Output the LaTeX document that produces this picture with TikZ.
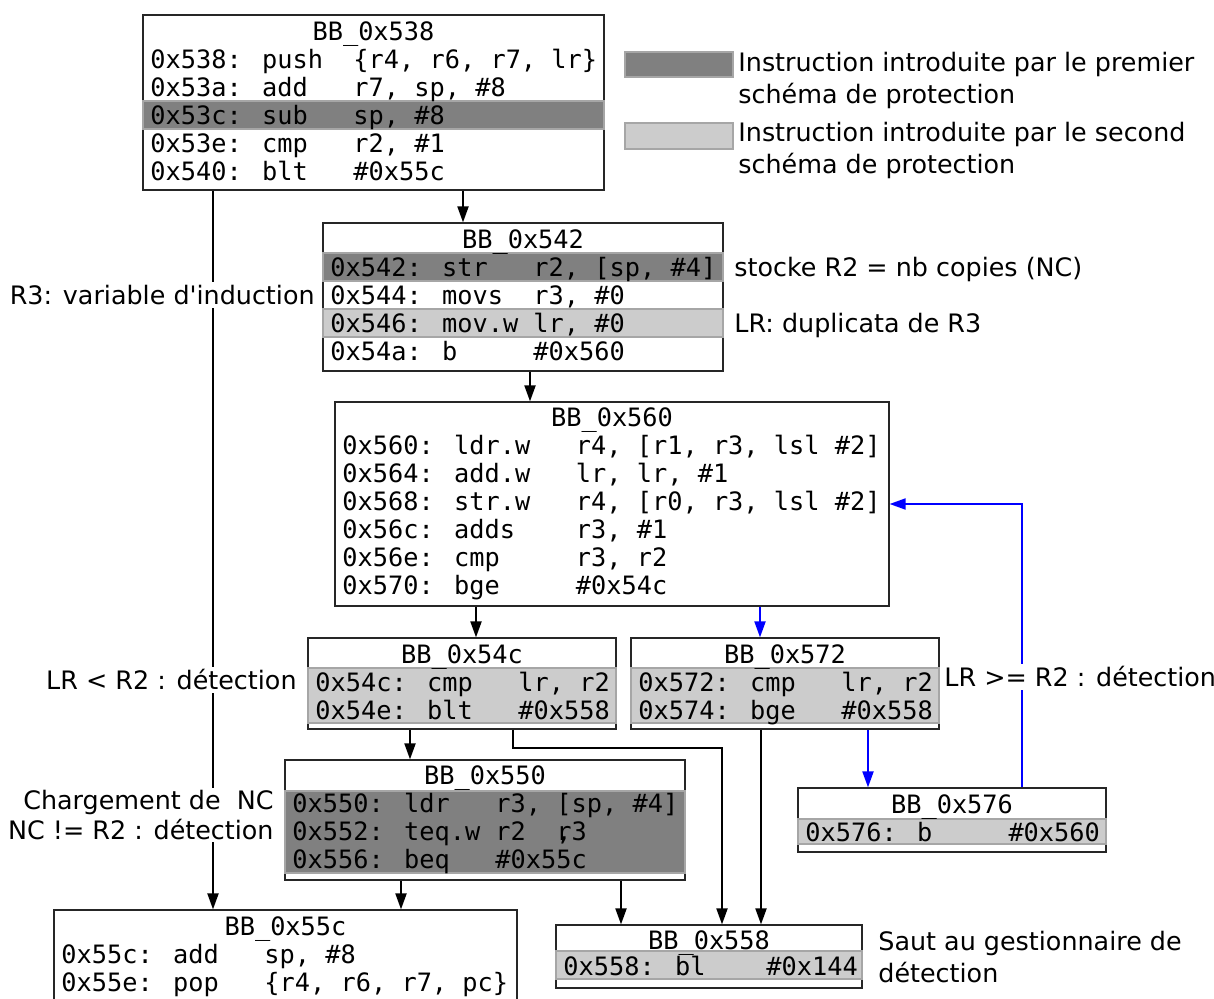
\documentclass[tikz,border=0pt]{standalone}
\usepackage{fontspec}
\setmainfont{DejaVu Sans}
\newfontfamily\codefamily{DejaVu Sans Mono}
\usetikzlibrary{arrows.meta,positioning,fit}

\begin{document}
\begin{tikzpicture}[x=0.5pt, y=-0.5pt,
  bb/.style={draw=black!85, line width=0.6pt, fill=white, inner sep=0pt},
  code/.style={font=\codefamily\fontsize{12.65}{14}\selectfont, inner sep=0pt, text height=10pt, text depth=0.7pt},
  lab/.style={font=\fontsize{12.7}{16}\selectfont, inner sep=1pt, fill=white, text height=10pt, text depth=0.7pt},
  labml/.style={font=\fontsize{12.7}{15}\selectfont, inner sep=1pt, fill=white},
  labwide/.style={labml, font=\fontsize{12.7}{16}\selectfont},
  hidark/.style={fill=black!50, draw=black!35, line width=0.6pt},
  hilight/.style={fill=black!20, draw=black!35, line width=0.6pt},
  arr/.style={line width=1pt, -{Triangle[length=8pt,width=5.5pt]}},
  barr/.style={arr, blue}]
  \clip (0,0) rectangle (1214,999);

  % legend
  \filldraw[hidark] (625,52) rectangle (733,77);
  \filldraw[hilight] (625,123) rectangle (733,149);
  \node[labwide, anchor=west, align=left] (leg1) at (736,80) {Instruction introduite par le premier\\schéma de protection};
  \node[labwide, anchor=west, align=left] (leg2) at (736,150) {Instruction introduite par le second\\schéma de protection};

  % BB_0x538
  \node[bb, fit={(143,15) (604,190)}] (b538) {};
  \filldraw[hidark] (143,101) rectangle (604,129);
  \node[code] (t538) at (b538.north |- 0,31) {BB\_0x538};
  \foreach \t [count=\i] in {{0x538: push\ \ \{r4, r6, r7, lr\}}, {0x53a: add\ \ \ r7, sp, \#8}, {0x53c: sub\ \ \ sp, \#8}, {0x53e: cmp\ \ \ r2, \#1}, {0x540: blt\ \ \ \#0x55c}}
    \node[code, anchor=west] (b538-\i) at (150,{31+28*\i}) {\t};

  % BB_0x542
  \node[bb, fit={(323,223) (723,371)}] (b542) {};
  \filldraw[hidark] (323,253) rectangle (723,281);
  \filldraw[hilight] (323,309) rectangle (723,337);
  \node[code] (t542) at (b542.north |- 0,239) {BB\_0x542};
  \foreach \t [count=\i] in {{0x542: str\ \ \ r2, [sp, \#4]}, {0x544: movs\ \ r3, \#0}, {0x546: mov.w lr, \#0}, {0x54a: b\ \ \ \ \ \#0x560}}
    \node[code, anchor=west] (b542-\i) at (330,{239+28*\i}) {\t};

  % BB_0x560
  \node[bb, fit={(335,402) (889,606)}] (b560) {};
  \node[code] (t560) at (b560.north |- 0,417) {BB\_0x560};
  \foreach \t [count=\i] in {{0x560: ldr.w\ \ \ r4, [r1, r3, lsl \#2]}, {0x564: add.w\ \ \ lr, lr, \#1}, {0x568: str.w\ \ \ r4, [r0, r3, lsl \#2]}, {0x56c: adds\ \ \ \ r3, \#1}, {0x56e: cmp\ \ \ \ \ r3, r2}, {0x570: bge\ \ \ \ \ \#0x54c}}
    \node[code, anchor=west] (b560-\i) at (342,{417+28*\i}) {\t};

  % BB_0x54c
  \node[bb, fit={(308,638) (616,729)}] (b54c) {};
  \filldraw[hilight] (308,668) rectangle (616,723);
  \node[code] (t54c) at (b54c.north |- 0,654) {BB\_0x54c};
  \foreach \t [count=\i] in {{0x54c: cmp\ \ \ lr, r2}, {0x54e: blt\ \ \ \#0x558}}
    \node[code, anchor=west] (b54c-\i) at (315,{654+28*\i}) {\t};

  % BB_0x572
  \node[bb, fit={(631,638) (939,729)}] (b572) {};
  \filldraw[hilight] (631,668) rectangle (939,723);
  \node[code] (t572) at (b572.north |- 0,654) {BB\_0x572};
  \foreach \t [count=\i] in {{0x572: cmp\ \ \ lr, r2}, {0x574: bge\ \ \ \#0x558}}
    \node[code, anchor=west] (b572-\i) at (638,{654+28*\i}) {\t};

  % BB_0x550
  \node[bb, fit={(285,760) (685,880)}] (b550) {};
  \filldraw[hidark] (285,791) rectangle (685,873);
  \node[code] (t550) at (b550.north |- 0,775) {BB\_0x550};
  \foreach \t [count=\i] in {{0x550: ldr\ \ \ r3, [sp, \#4]}, {0x552: teq.w r2\ \ \rlap{,}r3}, {0x556: beq\ \ \ \#0x55c}}
    \node[code, anchor=west] (b550-\i) at (292,{775+28*\i}) {\t};

  % BB_0x576
  \node[bb, fit={(798,788) (1106,852)}] (b576) {};
  \filldraw[hilight] (798,819) rectangle (1106,844);
  \node[code] (t576) at (b576.north |- 0,804) {BB\_0x576};
  \node[code, anchor=west] (b576-1) at (805,832) {0x576: b\ \ \ \ \ \#0x560};

  % BB_0x55c
  \node[bb, fit={(54,910) (517,1012)}] (b55c) {};
  \node[code] (t55c) at (b55c.north |- 0,926) {BB\_0x55c};
  \foreach \t [count=\i] in {{0x55c: add\ \ \ sp, \#8}, {0x55e: pop\ \ \ \{r4, r6, r7, pc\}}}
    \node[code, anchor=west] (b55c-\i) at (61,{926+28*\i}) {\t};

  % BB_0x558
  \node[bb, fit={(556,925) (862,988)}] (b558) {};
  \filldraw[hilight] (556,951) rectangle (862,979);
  \node[code] (t558) at (b558.north |- 0,940) {BB\_0x558};
  \node[code, anchor=west] (b558-1) at (563,966) {0x558: bl\ \ \ \ \#0x144};

  % edges
  \draw[arr] (463,0 |- b538.south) -- (463,0 |- b542.north);
  \draw[arr] (530,0 |- b542.south) -- (530,0 |- b560.north);
  \draw[arr] (476,0 |- b560.south) -- (476,0 |- b54c.north);
  \draw[barr] (760,0 |- b560.south) -- (760,0 |- b572.north);
  \draw[barr] (868,0 |- b572.south) -- (868,0 |- b576.north);
  \draw[barr] (1022,0 |- b576.north) |- (b560.east);
  \draw[arr] (213,0 |- b538.south) -- (213,0 |- b55c.north);
  \draw[arr] (410,0 |- b54c.south) -- (410,0 |- b550.north);
  \draw[arr] (513,0 |- b54c.south) -- ++(0,18) -| (722,0 |- b558.north);
  \draw[arr] (761,0 |- b572.south) -- (761,0 |- b558.north);
  \draw[arr] (401,0 |- b550.south) -- (401,0 |- b55c.north);
  \draw[arr] (621,0 |- b550.south) -- (621,0 |- b558.north);

  % labels
  \node[lab, anchor=east] (l-ind) at (317,295) {R3: variable d\textquotesingle induction};
  \node[lab, anchor=west] (l-nc) at (732,267) {stocke R2 = nb copies (NC)};
  \node[lab, anchor=west] (l-dup) at (732,323) {LR: duplicata de R3};
  \node[lab, anchor=east] (l-lt) at (299,680) {LR < R2 : détection};
  \node[lab, anchor=west] (l-ge) at (942,677) {LR >= R2 : détection};
  \node[labml, anchor=east, align=right] (l-ld) at (276,815) {Chargement de\ \ NC\\NC != R2 : détection};
  \node[labwide, anchor=west, align=left] (l-saut) at (876,957) {Saut au gestionnaire de\\détection};
\end{tikzpicture}
\end{document}
